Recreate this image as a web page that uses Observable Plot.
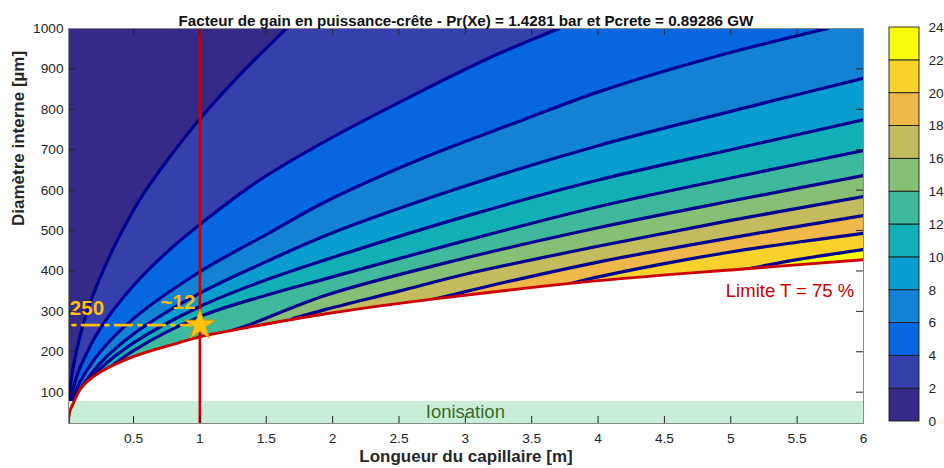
<!DOCTYPE html>
<html><head><meta charset="utf-8">
<script src="https://cdn.jsdelivr.net/npm/d3@7"></script>
<script src="https://cdn.jsdelivr.net/npm/@observablehq/plot@0.6"></script>
<style>
body{margin:0;background:#fff;}
#wrap{position:relative;width:944px;height:468px;}
#wrap svg{position:absolute;top:0;}
</style></head><body><div id="wrap"></div>
<script>
// ---- data ----
const xDomain = [0.01, 6];          // Longueur du capillaire [m]
const yDomain = [22.5, 1000];       // Diamètre interne [µm]
const xTicks = [0.5,1,1.5,2,2.5,3,3.5,4,4.5,5,5.5,6];
const xTickLabels = ["0.5","1","1.5","2","2.5","3","3.5","4","4.5","5","5.5","6"];
const yTicks = [100,200,300,400,500,600,700,800,900,1000];
const yTickLabels = ["100","200","300","400","500","600","700","800","900","1000"];
const levels = [0,2,4,6,8,10,12,14,16,18,20,22,24];
const levelColors = ["#352a87","#3540ad","#0767e0","#1482d4","#099ecf","#12afb6",
                     "#3fb99b","#86bf76","#c2bc5f","#f0b74a","#f8d22b","#f9fb0e"];
// contour lines [L (m), D (µm)]
const c02 = [[0.012,80],[0.05,170],[0.15,300],[0.25,385],[0.4,490],[0.55,578],[0.75,672],[1.0,776],[1.3,885],[1.652,1000]];
const c04 = [[0.02,78],[0.05,115],[0.1,163],[0.25,258],[0.5,364],[0.75,446],[1.0,515],[1.46,627],[1.95,722],[2.7,850],[3.2,930],[3.706,1000]];
const c06 = [[0.038,78],[0.1,127],[0.25,200],[0.5,282],[1.0,398],[1.5,490],[1.95,572],[2.7,682],[3.42,772],[4.02,845],[4.9,932],[5.73,1000]];
const c08 = [[0.05,78],[0.1,108],[0.25,172],[0.5,244],[1.0,345],[1.5,423],[1.95,488],[3.0,610],[4.0,710],[5.0,795],[6.0,877]];
const c10 = [[0.15,118],[0.25,158],[0.5,222],[1.0,312],[1.5,378],[1.95,428],[3.0,535],[4.0,625],[5.0,700],[6.0,774]];
const c12 = [[0.3,155],[0.5,203],[1.0,287],[1.5,340],[1.95,381],[3.0,475],[4.0,559],[5.0,630],[6.0,698]];
const c14 = [[1.1,240],[1.33,262],[1.95,340],[3.0,432],[4.0,507],[5.0,573],[6.0,636]];
const c16 = [[1.7,282],[1.95,305],[2.5,350],[3.0,392],[4.0,461],[5.0,525],[6.0,584]];
const c18 = [[2.6,318],[2.8,333],[3.3,372],[4.0,422],[5.0,482],[6.0,537]];
const c20 = [[3.75,365],[3.93,380],[4.5,418],[5.0,447],[5.5,471],[6.0,493]];
const c22 = [[4.95,395],[5.14,406],[5.5,428],[6.0,453]];
// transmission limit T = 75 %
const redLimit = [[0.01,22.5],[0.013,40],[0.022,55],[0.04,68],[0.07,90],[0.1,108],[0.15,126],[0.25,150],[0.5,188],[0.84,222],[1.0,237],[1.34,259],[1.93,293],[2.8,332],[4.0,376],[5.14,406],[6.0,428]];
const ionisationBand = [[22.5, 77]];   // D range
const selectedLength = [1];
const chosenPoint = [[1, 266]];
const dashLine = [[0.04, 266],[1, 266]];
const note250 = [[0.02, 307, "250"]];
const note12 = [[0.835, 323, "~12"]];
const noteLimit = [[5.93, 351, "Limite T = 75 %"]];
const noteIon = [[3.0, 50, "Ionisation"]];
const title = "Facteur de gain en puissance-crête - Pr(Xe) = 1.4281 bar et Pcrete = 0.89286 GW";
const xLabel = "Longueur du capillaire [m]";
const yLabel = "Diamètre interne [µm]";

// ---- drawing ----
const FONT = "'Liberation Sans', Arial, Helvetica, sans-serif";
const mL = 68, mR = 81, mT = 28, mB = 45, WID = 944, HGT = 468;
const W = WID - mL - mR, H = HGT - mT - mB;
const [Lmin, Lmax] = xDomain, [Dmin, Dmax] = yDomain;
const contours = [c02,c04,c06,c08,c10,c12,c14,c16,c18,c20,c22];
const LINE = "#00008f", RED = "#cc0000", ORANGE = "#ffbf00";
const CURVE = "catmull-rom";

const main = Plot.plot({
  width: WID, height: HGT,
  marginLeft: mL, marginRight: mR, marginTop: mT, marginBottom: mB,
  x: {domain: xDomain}, y: {domain: yDomain},
  style: {fontFamily: FONT, fontSize: "13.7px", color: "#262626", background: "transparent"},
  marks: [
    Plot.frame({fill: levelColors[0], stroke: "none"}),
    ...contours.map((pts, i) => Plot.areaX(pts, {y: d => d[1], x1: d => d[0], x2: Lmax, fill: levelColors[i + 1], curve: CURVE, clip: true})),
    ...contours.map(pts => Plot.line(pts, {x: d => d[0], y: d => d[1], stroke: LINE, strokeWidth: 3.2, curve: CURVE, clip: true})),
    Plot.areaY(redLimit, {x: d => d[0], y1: Dmin, y2: d => d[1], fill: "white", curve: CURVE}),
    Plot.rect(ionisationBand, {x1: Lmin, x2: Lmax, y1: d => d[0], y2: d => d[1], fill: "#c8eed9"}),
    Plot.line(redLimit, {x: d => d[0], y: d => d[1], stroke: RED, strokeWidth: 2.9, curve: CURVE, clip: true}),
    Plot.ruleX(selectedLength, {x: d => d, stroke: RED, strokeWidth: 2.7}),
    Plot.line(dashLine, {x: d => d[0], y: d => d[1], stroke: ORANGE, strokeWidth: 2.7, strokeDasharray: "3,6.5,17,6.5"}),
    Plot.dot(chosenPoint, {x: d => d[0], y: d => d[1], symbol: "star", r: 9.6, fill: "#ffc20e", stroke: "#d49a00", strokeWidth: 1}),
    Plot.text(note250, {x: d => d[0], y: d => d[1], text: d => d[2], textAnchor: "start", fill: ORANGE, fontWeight: "bold", fontSize: 20.5}),
    Plot.text(note12, {x: d => d[0], y: d => d[1], text: d => d[2], fill: ORANGE, fontWeight: "bold", fontSize: 20.5}),
    Plot.text(noteLimit, {x: d => d[0], y: d => d[1], text: d => d[2], textAnchor: "end", fill: RED, fontSize: 18.5}),
    Plot.text(noteIon, {x: d => d[0], y: d => d[1], text: d => d[2], fill: "#3a6b2a", fontSize: 18.5}),
    // inward ticks on the four sides
    Plot.tickX(xTicks, {x: d => d, stroke: "#262626", insetTop: H - 7}),
    Plot.tickX(xTicks, {x: d => d, stroke: "#262626", insetBottom: H - 7}),
    Plot.tickY(yTicks, {y: d => d, stroke: "#262626", insetRight: W - 7}),
    Plot.tickY(yTicks, {y: d => d, stroke: "#262626", insetLeft: W - 7}),
    Plot.axisX(xTicks, {tickSize: 0, tickPadding: 10, label: null, tickFormat: d => xTickLabels[xTicks.indexOf(d)]}),
    Plot.axisY(yTicks, {tickSize: 0, tickPadding: 5, label: null, tickFormat: d => yTickLabels[yTicks.indexOf(d)]}),
    Plot.frame({stroke: "#8a8a8a"}),
    Plot.text([title], {frameAnchor: "top", dy: -13, text: d => d, fontWeight: "bold", fontSize: 15.2, fill: "#111"}),
    Plot.text([xLabel], {frameAnchor: "bottom", dy: 38, text: d => d, fontWeight: "bold", fontSize: 17, fill: "#262626"}),
    Plot.text([yLabel], {frameAnchor: "left", dx: -49.5, rotate: -90, text: d => d, fontWeight: "bold", fontSize: 17, fill: "#262626"})
  ]
});

const bands = levelColors.map((c, i) => ({lo: levels[i], hi: levels[i + 1], color: c}));
const cbar = Plot.plot({
  width: 74, height: HGT,
  marginLeft: 19, marginRight: 25, marginTop: 27, marginBottom: 47,
  x: {domain: [0, 1], axis: null},
  y: {domain: [levels[0], levels[levels.length - 1]]},
  style: {fontFamily: FONT, fontSize: "13.7px", color: "#262626", background: "transparent"},
  marks: [
    Plot.rect(bands, {x1: 0, x2: 1, y1: d => d.lo, y2: d => d.hi, fill: d => d.color, stroke: "#1a1a1a", strokeWidth: 0.9}),
    Plot.axisY(levels, {anchor: "right", tickSize: 0, tickPadding: 9, label: null})
  ]
});
const wrap = document.getElementById("wrap");
main.style.left = "0px";
cbar.style.left = "870px";
wrap.appendChild(main);
wrap.appendChild(cbar);
</script></body></html>
